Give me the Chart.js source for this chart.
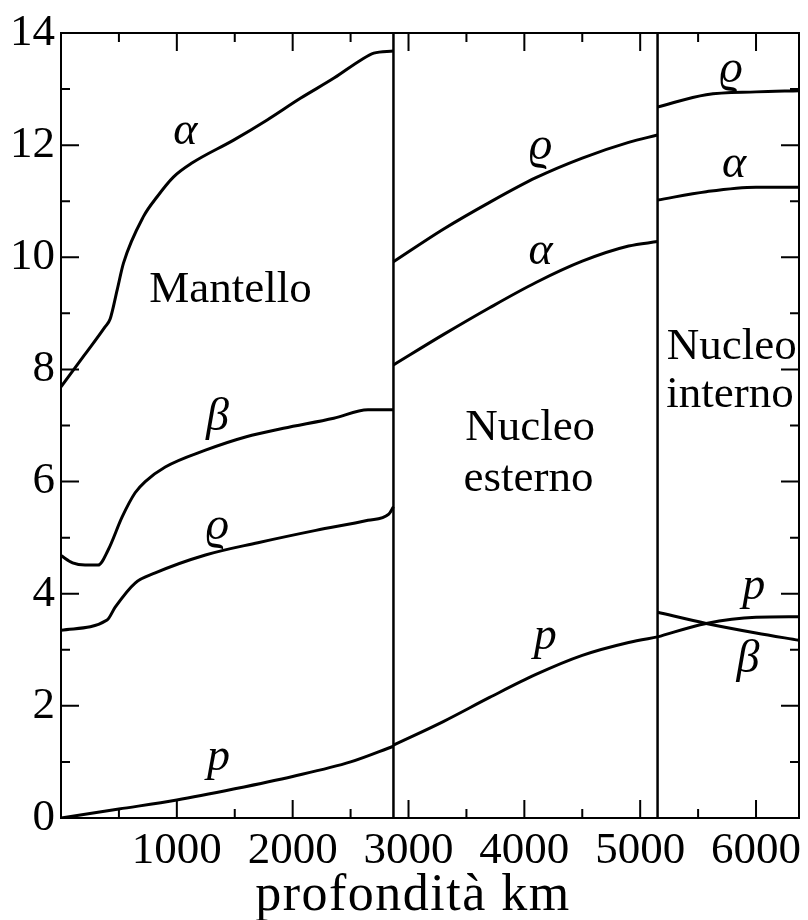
<!DOCTYPE html>
<html>
<head>
<meta charset="utf-8">
<script src="https://cdn.jsdelivr.net/npm/chart.js@4"></script>
<style>
  html, body { margin: 0; padding: 0; background: #fff; }
  #wrap { width: 808px; height: 920px; }
</style>
</head>
<body>
<div id="wrap"><canvas id="chart" width="808" height="920"></canvas></div>
<script>
// depth (km) / value pairs
const mantleAlpha = [[0, 7.69], [200, 8.25], [380, 8.76], [424, 8.9], [485, 9.42], [540, 9.9], [710, 10.72], [830, 11.08], [970, 11.43], [1130, 11.68], [1490, 12.09], [1780, 12.45], [2070, 12.84], [2360, 13.2], [2590, 13.52], [2700, 13.64], [2870, 13.68]];
const mantleBeta = [[0, 4.68], [100, 4.55], [208, 4.51], [320, 4.51], [407, 4.78], [528, 5.37], [640, 5.8], [727, 6.0], [900, 6.26], [1247, 6.56], [1600, 6.8], [1920, 6.95], [2355, 7.13], [2650, 7.28], [2870, 7.28]];
const mantleRho = [[0, 3.35], [398, 3.53], [468, 3.76], [640, 4.19], [814, 4.37], [1247, 4.69], [1700, 4.91], [2200, 5.13], [2650, 5.31], [2830, 5.42], [2870, 5.55]];
const mantleP = [[0, 0], [500, 0.16], [1000, 0.32], [1500, 0.52], [2000, 0.74], [2500, 1.0], [2870, 1.28]];

const outerRho = [[2870, 9.92], [3300, 10.5], [3700, 10.98], [4100, 11.42], [4500, 11.77], [4900, 12.05], [5150, 12.18]];
const outerAlpha = [[2870, 8.08], [3300, 8.62], [3700, 9.1], [4100, 9.55], [4500, 9.93], [4900, 10.2], [5150, 10.28]];
const outerP = [[2870, 1.3], [3300, 1.72], [3700, 2.15], [4100, 2.56], [4500, 2.9], [4900, 3.13], [5150, 3.23]];

const innerRho = [[5150, 12.68], [5570, 12.9], [6000, 12.95], [6371, 12.97]];
const innerAlpha = [[5150, 11.02], [5570, 11.17], [6000, 11.25], [6371, 11.25]];
const innerBeta = [[5150, 3.67], [5570, 3.47], [6000, 3.3], [6371, 3.17]];
const innerP = [[5150, 3.23], [5570, 3.47], [6000, 3.58], [6371, 3.59]];

const boundaries = [2870, 5150];
const xTickValues = [500, 1000, 1500, 2000, 2500, 3000, 3500, 4000, 4500, 5000, 5500, 6000];
const yTickValues = [0, 2, 4, 6, 8, 10, 12, 14];
const xTitle = 'profondità km';

const curves = [mantleAlpha, mantleBeta, mantleRho, mantleP, outerRho, outerAlpha, outerP, innerRho, innerAlpha, innerBeta, innerP];

// text written on the figure: [text, depth, value, italic]
const annotations = [
  ['α', 1074, 12.23, true],
  ['Mantello', 1463, 9.42, false],
  ['β', 1350, 7.13, true],
  ['ϱ', 1350, 5.19, true],
  ['p', 1360, 1.07, true],
  ['ϱ', 4140, 11.97, true],
  ['α', 4140, 10.1, true],
  ['Nucleo', 4050, 6.95, false],
  ['esterno', 4035, 6.05, false],
  ['p', 4180, 3.23, true],
  ['ϱ', 5785, 13.34, true],
  ['α', 5810, 11.65, true],
  ['Nucleo', 5790, 8.4, false],
  ['interno', 5775, 7.54, false],
  ['p', 5980, 4.12, true],
  ['β', 5930, 2.82, true]
];

const serif = '"Liberation Serif", "DejaVu Serif", "Times New Roman", serif';

const datasets = curves.map(c => ({
  data: c.map(p => ({ x: p[0], y: p[1] })),
  showLine: true,
  borderColor: '#000',
  borderWidth: 3,
  pointRadius: 0,
  cubicInterpolationMode: 'monotone'
}));
boundaries.forEach(b => datasets.push({
  data: [{ x: b, y: 0 }, { x: b, y: 14 }],
  showLine: true,
  borderColor: '#000',
  borderWidth: 2.5,
  pointRadius: 0
}));

const framePlugin = {
  id: 'frame',
  afterDatasetsDraw(chart) {
    const { ctx, chartArea: a, scales: { x, y } } = chart;
    ctx.save();
    ctx.strokeStyle = '#000';
    ctx.lineWidth = 2;
    ctx.strokeRect(a.left, a.top, a.right - a.left, a.bottom - a.top);
    ctx.beginPath();
    xTickValues.forEach(v => {
      const px = x.getPixelForValue(v);
      const len = v % 1000 === 0 ? 18 : 9;
      ctx.moveTo(px, a.bottom); ctx.lineTo(px, a.bottom - len);
      ctx.moveTo(px, a.top); ctx.lineTo(px, a.top + len);
    });
    for (let v = 1; v < 14; v++) {
      const py = y.getPixelForValue(v);
      const len = v % 2 === 0 ? 18 : 9;
      ctx.moveTo(a.left, py); ctx.lineTo(a.left + len, py);
      ctx.moveTo(a.right, py); ctx.lineTo(a.right - len, py);
    }
    ctx.stroke();

    ctx.fillStyle = '#000';
    ctx.textAlign = 'center';
    ctx.textBaseline = 'middle';
    annotations.forEach(([t, dx, dy, it]) => {
      ctx.font = it ? 'italic 46px ' + serif : '45px ' + serif;
      ctx.fillText(t, x.getPixelForValue(dx), y.getPixelForValue(dy));
    });

    // axis title, slightly letter-spaced like the scan
    ctx.font = '52px ' + serif;
    ctx.letterSpacing = '1.5px';
    ctx.textBaseline = 'alphabetic';
    ctx.fillText(xTitle, 413, 910);
    ctx.restore();
  }
};

new Chart(document.getElementById('chart'), {
  type: 'scatter',
  data: { datasets },
  options: {
    responsive: false,
    animation: false,
    layout: { padding: { top: 33, right: 9, left: 0, bottom: 0 } },
    plugins: { legend: { display: false }, tooltip: { enabled: false } },
    scales: {
      x: {
        type: 'linear',
        min: 0,
        max: 6371,
        grid: { display: false, drawTicks: false },
        border: { display: false },
        afterBuildTicks: s => { s.ticks = xTickValues.filter(v => v % 1000 === 0).map(v => ({ value: v })); },
        afterFit: s => { s.height = 102; },
        ticks: {
          color: '#000',
          padding: 6,
          maxRotation: 0,
          autoSkip: false,
          font: { family: serif, size: 45 },
          callback: v => String(v)
        }
      },
      y: {
        type: 'linear',
        min: 0,
        max: 14,
        grid: { display: false, drawTicks: false },
        border: { display: false },
        afterBuildTicks: s => { s.ticks = yTickValues.map(v => ({ value: v })); },
        afterFit: s => { s.width = 61; },
        ticks: {
          color: '#000',
          padding: 6,
          autoSkip: false,
          font: { family: serif, size: 45 },
          callback: v => String(v)
        }
      }
    }
  },
  plugins: [framePlugin]
});
</script>
</body>
</html>
